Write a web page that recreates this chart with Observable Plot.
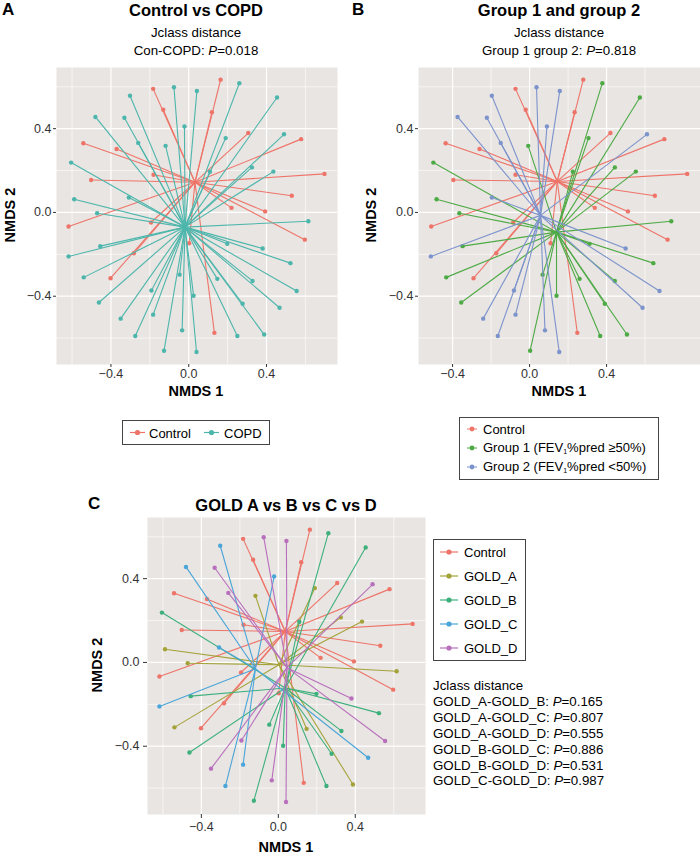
<!DOCTYPE html>
<html><head><meta charset="utf-8">
<script src="https://cdn.jsdelivr.net/npm/d3@7"></script>
<script src="https://cdn.jsdelivr.net/npm/@observablehq/plot@0.6"></script>
<style>
body{margin:0;background:#fff;font-family:"Liberation Sans",Arial,sans-serif;}
#root{position:relative;width:700px;height:856px;overflow:hidden;background:#fff;}
.t{position:absolute;white-space:nowrap;color:#000;line-height:1;}
.box{position:absolute;border:1px solid #444;box-sizing:border-box;}
svg.key{position:absolute;overflow:visible;}
</style></head><body><div id="root"></div>
<script>
// ---------- DATA ----------
// Control samples
const controlN1  = [-0.183,-0.131,-0.542,-0.502,0.164,0.119,0.306,0.578,0.698,0.53,0.22,0.393,0.597,0.132,-0.618,-0.194,-0.282,-0.402,-0.371,-0.181,0.002];
const controlN1B = [-0.073,-0.02,-0.436,-0.396,0.279,0.234,0.42,0.70,0.819,0.651,0.339,0.511,0.717,0.248,-0.511,-0.085,-0.173,-0.291,-0.26,-0.073,0.109];
const controlN2  = [0.59,0.49,0.33,0.155,0.634,0.478,0.379,0.35,0.184,0.08,0.022,0.005,-0.13,-0.575,-0.067,-0.048,-0.195,-0.314,0.303,0.18,-0.147];
// COPD samples
const copdN1  = [-0.076,0.042,-0.302,-0.48,-0.331,-0.022,-0.26,-0.119,-0.605,-0.308,-0.589,-0.471,0.26,0.454,0.19,0.49,0.325,0.435,0.615,0.38,0.523,0.147,0.328,0.555,0.277,0.467,0.25,0.388,0.04,-0.455,-0.618,-0.54,-0.047,-0.192,0.025,-0.462,-0.35,-0.183,-0.034,-0.275,-0.127,0.109,0.198];
const copdN1B = [0.036,0.157,-0.196,-0.374,-0.222,0.09,-0.15,-0.007,-0.50,-0.196,-0.483,-0.365,0.378,0.573,0.306,0.61,0.443,0.552,0.736,0.499,0.643,0.26,0.443,0.675,0.391,0.587,0.367,0.506,0.154,-0.348,-0.513,-0.433,0.068,-0.081,0.14,-0.355,-0.241,-0.073,0.08,-0.165,0.003,0.225,0.312];
const copdN2  = [0.598,0.58,0.557,0.456,0.452,0.41,0.332,0.318,0.238,0.071,0.063,-0.004,0.617,0.549,0.355,0.373,0.215,0.195,-0.042,-0.172,-0.242,-0.317,-0.327,-0.375,-0.436,-0.455,-0.59,-0.583,-0.666,-0.161,-0.21,-0.31,-0.297,-0.373,-0.398,-0.43,-0.507,-0.488,-0.563,-0.59,-0.66,0.194,-0.15];
const copdFev = ["Group 2","Group 2","Group 2","Group 2","Group 2","Group 2","Group 2","Group 1","Group 1","Group 2","Group 1","Group 1","Group 1","Group 1","Group 1","Group 2","Group 1","Group 1","Group 1","Group 2","Group 1","Group 1","Group 1","Group 2","Group 1","Group 2","Group 1","Group 1","Group 2","Group 1","Group 2","Group 1","Group 1","Group 2","Group 1","Group 1","Group 2","Group 2","Group 2","Group 2","Group 1","Group 1","Group 1"];
const copdGold = ["GOLD_D","GOLD_D","GOLD_C","GOLD_C","GOLD_D","GOLD_C","GOLD_D","GOLD_A","GOLD_B","GOLD_C","GOLD_A","GOLD_A","GOLD_B","GOLD_B","GOLD_A","GOLD_D","GOLD_A","GOLD_A","GOLD_A","GOLD_D","GOLD_B","GOLD_A","GOLD_B","GOLD_D","GOLD_B","GOLD_C","GOLD_B","GOLD_A","GOLD_D","GOLD_B","GOLD_C","GOLD_A","GOLD_B","GOLD_D","GOLD_B","GOLD_B","GOLD_D","GOLD_C","GOLD_D","GOLD_C","GOLD_B","GOLD_B","GOLD_B"];

// Group centroids (spider centres) per panel
const groupsA = ["Control","COPD"];
const centAx = [0.032,-0.019], centAy = [0.144,-0.07];
const groupsB = ["Control","Group 1","Group 2"];
const centBx = [0.144,0.14,0.057], centBy = [0.148,-0.094,-0.014];
const groupsC = ["Control","GOLD_A","GOLD_B","GOLD_C","GOLD_D"];
const centCx = [0.036,0.003,0.036,-0.119,0.045], centCy = [0.148,-0.011,-0.122,-0.03,-0.025];

// Colours
const colorsA = ["#EE7469","#4DB6AC"];
const colorsB = ["#EE7469","#4DAA45","#7C93CC"];
const colorsC = ["#EE7469","#A4A33A","#3DB07C","#4AA5D9","#B870BD"];

// Ticks
const majorTicks = [-0.4,0,0.4];
const minorTicksAC = [-0.6,-0.2,0.2,0.6];
const minorTicksB = [-0.2,0.2,0.6];
const minorTicksY = [-0.6,-0.2,0.2,0.6];

const BG = "#E9E5E2";
const fmt = d3.format(".1f");
const root = document.getElementById("root");

function panel(cfg){
  const cent = new Map(cfg.groups.map((g,i)=>[g,{x:cfg.cx[i],y:cfg.cy[i]}]));
  const rows = cfg.rows.map(r=>({...r, cx:cent.get(r.g).x, cy:cent.get(r.g).y}));
  const marks = [
    Plot.frame({fill:BG, stroke:"none"}),
    Plot.ruleX(cfg.minorX,{stroke:"#fff",strokeWidth:0.6}),
    Plot.ruleY(minorTicksY,{stroke:"#fff",strokeWidth:0.6}),
    Plot.ruleX(majorTicks,{stroke:"#fff",strokeWidth:1.2}),
    Plot.ruleY(majorTicks,{stroke:"#fff",strokeWidth:1.2})
  ];
  for(const g of cfg.groups){
    const sub = rows.filter(r=>r.g===g);
    marks.push(Plot.link(sub,{x1:"x",y1:"y",x2:"cx",y2:"cy",stroke:"g",strokeWidth:1.1}));
    marks.push(Plot.dot(sub,{x:"x",y:"y",fill:"g",r:2.2}));
  }
  marks.push(Plot.axisX(majorTicks,{tickSize:cfg.ts,tickPadding:cfg.tp,tickFormat:fmt,label:null,color:"#333",fontSize:12.5}));
  marks.push(Plot.axisY(majorTicks,{tickSize:cfg.ts,tickPadding:cfg.tp,tickFormat:fmt,label:null,color:"#333",fontSize:12.5}));
  const svg = Plot.plot({
    width:cfg.w, height:cfg.h,
    marginLeft:cfg.ml, marginRight:cfg.mr, marginTop:cfg.mt, marginBottom:cfg.mb,
    x:{domain:cfg.xd,label:null}, y:{domain:[-0.726,0.692],label:null},
    color:{domain:cfg.groups,range:cfg.colors},
    style:{fontFamily:"Liberation Sans, Arial, sans-serif",background:"transparent",overflow:"visible"},
    marks
  });
  svg.style.position="absolute"; svg.style.left=cfg.left+"px"; svg.style.top=cfg.top+"px";
  root.appendChild(svg);
}

const rowsA = [], rowsB = [], rowsC = [];
controlN1.forEach((v,i)=>{
  rowsA.push({x:v,y:controlN2[i],g:"Control"});
  rowsB.push({x:controlN1B[i],y:controlN2[i],g:"Control"});
  rowsC.push({x:v,y:controlN2[i],g:"Control"});
});
copdN1.forEach((v,i)=>{
  rowsA.push({x:v,y:copdN2[i],g:"COPD"});
  rowsB.push({x:copdN1B[i],y:copdN2[i],g:copdFev[i]});
  rowsC.push({x:v,y:copdN2[i],g:copdGold[i]});
});

panel({rows:rowsA,groups:groupsA,cx:centAx,cy:centAy,colors:colorsA,minorX:minorTicksAC,xd:[-0.68,0.765],
  left:0,top:60,w:345,h:322,ml:56,mr:8,mt:7,mb:18,ts:3,tp:2});
panel({rows:rowsB,groups:groupsB,cx:centBx,cy:centBy,colors:colorsB,minorX:minorTicksB,xd:[-0.577,0.888],
  left:350,top:60,w:350,h:322,ml:68,mr:0,mt:7,mb:18,ts:3,tp:2});
panel({rows:rowsC,groups:groupsC,cx:centCx,cy:centCy,colors:colorsC,minorX:minorTicksAC,xd:[-0.68,0.765],
  left:90,top:510,w:345,h:330,ml:57,mr:10,mt:7,mb:26,ts:4,tp:4});

// ---------- TEXT ----------
function T(html,x,y,o={}){
  const d=document.createElement("div"); d.className="t"; d.innerHTML=html;
  d.style.left=x+"px"; d.style.top=y+"px";
  d.style.fontSize=(o.size||13)+"px"; d.style.fontWeight=o.weight||"normal";
  const tx = o.anchor==="start"?"0":"-50%";
  d.style.transform=`translate(${tx},-50%)`+(o.rot?` rotate(${o.rot}deg)`:"");
  root.appendChild(d);
}
T("A",2,9,{size:17,weight:"bold",anchor:"start"});
T("Control vs COPD",196,10,{size:16.5,weight:"bold"});
T("Jclass distance",196,33,{size:13.3});
T("Con-COPD: <i>P</i>=0.018",196,51,{size:13.3});
T("B",352,9,{size:17,weight:"bold",anchor:"start"});
T("Group 1 and group 2",559,10,{size:16.5,weight:"bold"});
T("Jclass distance",559,33,{size:13.3});
T("Group 1 group 2: <i>P</i>=0.818",559,51,{size:13.3});
T("C",88,503,{size:17,weight:"bold",anchor:"start"});
T("GOLD A vs B vs C vs D",286,505,{size:16.5,weight:"bold"});

T("NMDS 1",196,391,{size:14.5,weight:"bold"});
T("NMDS 1",559,391,{size:14.5,weight:"bold"});
T("NMDS 1",286,847,{size:14.5,weight:"bold"});
T("NMDS 2",10,215,{size:14.5,weight:"bold",rot:-90});
T("NMDS 2",371,215,{size:14.5,weight:"bold",rot:-90});
T("NMDS 2",97,665,{size:14.5,weight:"bold",rot:-90});

// ---------- LEGENDS ----------
function box(x,y,w,h){const b=document.createElement("div");b.className="box";
  Object.assign(b.style,{left:x+"px",top:y+"px",width:w+"px",height:h+"px"});root.appendChild(b);}
function key(x1,x2,y,color,lw=1.2,r=2.6){
  const ns="http://www.w3.org/2000/svg";
  const s=document.createElementNS(ns,"svg"); s.setAttribute("class","key");
  s.setAttribute("width",700); s.setAttribute("height",856);
  s.style.left="0px"; s.style.top="0px"; s.style.pointerEvents="none";
  const l=document.createElementNS(ns,"line");
  l.setAttribute("x1",x1);l.setAttribute("x2",x2);l.setAttribute("y1",y);l.setAttribute("y2",y);
  l.setAttribute("stroke",color);l.setAttribute("stroke-width",lw);
  const c=document.createElementNS(ns,"circle");
  c.setAttribute("cx",(x1+x2)/2);c.setAttribute("cy",y);c.setAttribute("r",r);c.setAttribute("fill",color);
  s.appendChild(l);s.appendChild(c);root.appendChild(s);
}
// A
box(122,420,148,25);
key(130,145,432.5,colorsA[0]); T(groupsA[0],149,432.5,{size:13,anchor:"start"});
key(204,219,432.5,colorsA[1]); T(groupsA[1],224,432.5,{size:13,anchor:"start"});
// B
const legB = ["Control","Group 1 (FEV<sub style='font-size:7px;vertical-align:-2px'>1</sub>%pred ≥50%)","Group 2 (FEV<sub style='font-size:7px;vertical-align:-2px'>1</sub>%pred &lt;50%)"];
box(459,417,200,63);
legB.forEach((s,i)=>{const y=429+i*19; key(467,477,y,colorsB[i],1,2.4); T(s,483,y,{size:13,anchor:"start"});});
// C
box(433,539,93,122);
groupsC.forEach((g,i)=>{const y=552+i*24; key(440,458,y,colorsC[i]); T(g,464,y,{size:13,anchor:"start"});});
// Jclass
const jText = ["Jclass distance","GOLD_A-GOLD_B: <i>P</i>=0.165","GOLD_A-GOLD_C: <i>P</i>=0.807","GOLD_A-GOLD_D: <i>P</i>=0.555","GOLD_B-GOLD_C: <i>P</i>=0.886","GOLD_B-GOLD_D: <i>P</i>=0.531","GOLD_C-GOLD_D: <i>P</i>=0.987"];
jText.forEach((s,i)=>T(s,433,686+i*15.9,{size:13.3,anchor:"start"}));
</script></body></html>
